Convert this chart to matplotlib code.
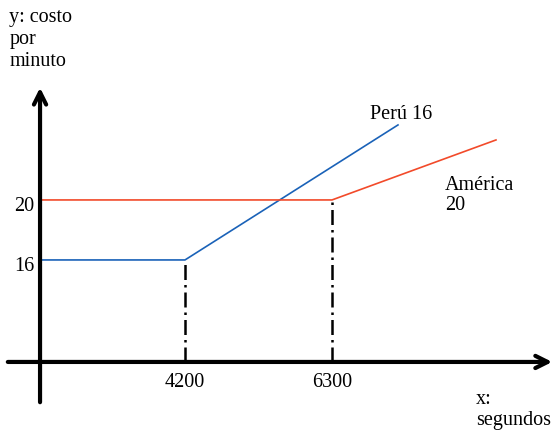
import matplotlib
matplotlib.use("Agg")
import matplotlib.pyplot as plt

# Data
breaks = [4200, 6300]
peru_x = [2129, 4200, 7243]
peru_y = [16, 16, 25]
america_x = [2129, 6300, 8643]
america_y = [20, 20, 24]
ytick_vals = [16, 20]
xtick_labels = ["4200", "6300"]

plt.rcParams['font.family'] = ['Liberation Serif', 'DejaVu Serif']

fig = plt.figure(figsize=(5.58, 4.32), dpi=100)
ax = fig.add_axes([0, 0, 1, 1])
ax.set_xlim(1557, 9529)
ax.set_ylim(4.53, 33.33)
ax.axis('off')

yaxis_x = 2129
xaxis_y = 9.2

# axes with arrows
ax.annotate('', xy=(9486, xaxis_y), xytext=(1629, xaxis_y),
            arrowprops=dict(arrowstyle='->', lw=3, color='black', mutation_scale=22))
ax.annotate('', xy=(yaxis_x, 27.67), xytext=(yaxis_x, 6.33),
            arrowprops=dict(arrowstyle='->', lw=3, color='black', mutation_scale=22))

# series
ax.plot(peru_x, peru_y, color='#1a62b8', lw=1.2)
ax.plot(america_x, america_y, color='#f24a2a', lw=1.2)

# vertical dash-dot lines
ax.plot([breaks[0], breaks[0]], [xaxis_y, peru_y[1]], color='black', lw=1.8,
        linestyle=(0, (6, 2, 1, 2)))
ax.plot([breaks[1], breaks[1]], [xaxis_y, america_y[1]], color='black', lw=1.8,
        linestyle=(0, (6, 2, 1, 2)))

fs = 14.5
for v in ytick_vals:
    ax.text(1765, v - 0.45, str(v), fontsize=fs, ha='left', va='center')
for xv, lab in zip(breaks, xtick_labels):
    ax.text(xv, 7.85, lab, fontsize=fs, ha='center', va='center')

ax.text(1690, 32.8, "y: costo\npor\nminuto", fontsize=fs, ha='left', va='top', linespacing=1.2)
ax.text(8360, 6.0, "x:\nsegundos", fontsize=fs, ha='left', va='center', linespacing=1.15)
ax.text(6843, 25.67, "Perú 16", fontsize=fs, ha='left', va='center')
ax.text(7914, 20.3, "América\n20", fontsize=fs, ha='left', va='center', linespacing=1.1)

fig.savefig("out.png", dpi=100)
